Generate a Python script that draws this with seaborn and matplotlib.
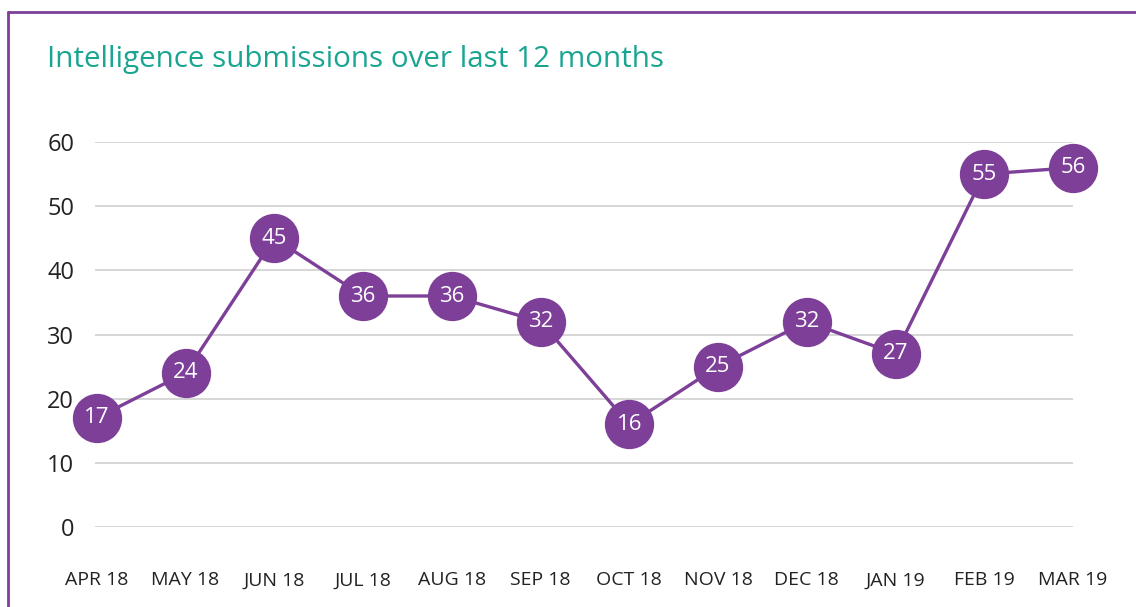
import matplotlib
matplotlib.use("Agg")
import matplotlib.pyplot as plt
import seaborn as sns
import pandas as pd
from matplotlib.lines import Line2D

months = ["APR 18", "MAY 18", "JUN 18", "JUL 18", "AUG 18", "SEP 18",
          "OCT 18", "NOV 18", "DEC 18", "JAN 19", "FEB 19", "MAR 19"]
submissions = [17, 24, 45, 36, 36, 32, 16, 25, 32, 27, 55, 56]
y_ticks = [0, 10, 20, 30, 40, 50, 60]

PURPLE = "#7d3f98"
TEAL = "#1aa592"
GRID = "#cfcfcf"

sns.set_theme(style="white")
plt.rcParams["font.family"] = ["Open Sans", "DejaVu Sans"]

df = pd.DataFrame({"month": range(len(months)), "value": submissions})

fig = plt.figure(figsize=(11.36, 6.07), dpi=100)
ax = fig.add_axes([95 / 1136, 1 - 527 / 607, (1073 - 95) / 1136, (527 - 142) / 607])

sns.lineplot(data=df, x="month", y="value", ax=ax, color=PURPLE, linewidth=2.4,
             marker="o", markersize=35.5, markeredgewidth=0, clip_on=False, zorder=3)

for x, v in zip(df["month"], df["value"]):
    ax.text(x, v, str(v), color="white", ha="center", va="center",
            fontsize=16, zorder=4, clip_on=False)

ax.set_ylim(0, 60)
ax.set_xlim(-0.02, 10.98)
ax.set_yticks(y_ticks)
ax.set_xticks(range(len(months)))
ax.set_xticklabels(months)
ax.yaxis.grid(True, color=GRID, linewidth=1.2)
ax.xaxis.grid(False)
for s in ax.spines.values():
    s.set_visible(False)
ax.tick_params(axis="y", length=0, pad=15, labelsize=17, labelcolor="#222222")
ax.tick_params(axis="x", length=0, pad=32, labelsize=14, labelcolor="#222222")
ax.set_xlabel("")
ax.set_ylabel("")

fig.text(47 / 1136, 1 - 59 / 607, "Intelligence submissions over last 12 months",
         color=TEAL, fontsize=21.3, ha="left", va="center")

# purple frame on top and left
fig.add_artist(Line2D([8 / 1136, 8 / 1136], [0, 1 - 12 / 607], color=PURPLE, linewidth=2,
                      transform=fig.transFigure))
fig.add_artist(Line2D([8 / 1136, 1], [1 - 12 / 607, 1 - 12 / 607], color=PURPLE, linewidth=2,
                      transform=fig.transFigure))

fig.savefig("out.png", dpi=100)
